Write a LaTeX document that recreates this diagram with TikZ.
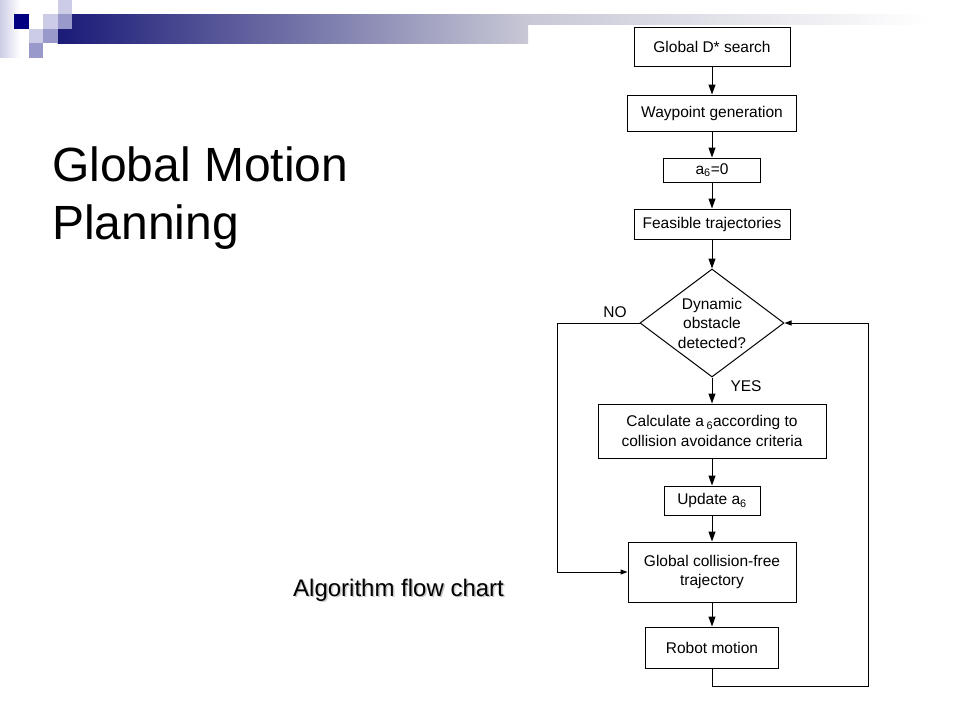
\documentclass[tikz,border=0pt]{standalone}
\usepackage{fontspec}
\setmainfont{Liberation Sans}
\usetikzlibrary{arrows.meta,shapes.geometric}
\definecolor{slidenavy}{RGB}{0,0,128}
\definecolor{slidelight}{RGB}{204,204,230}
\definecolor{slidemid}{RGB}{153,153,204}
\definecolor{bardark}{RGB}{26,26,120}
\definecolor{barpale}{RGB}{200,200,214}
\newcommand{\boxfont}{\fontsize{15.5}{19.5}\selectfont}

\begin{document}
\begin{tikzpicture}[
    x=1pt, y=-1pt,
    flowbox/.style={draw=black, line width=1pt, inner sep=0pt, align=center, font=\boxfont},
    flowarrow/.style={line width=1pt, -{Triangle[length=10pt,width=7pt]}},
    sidearrow/.style={line width=1pt, -{Triangle[length=7pt,width=5pt]}}
]
\useasboundingbox (0,0) rectangle (960,720);
% slide header
\fill[left color=slidelight, right color=white] (0,0) rectangle (20,57.6);
\fill[left color=bardark, right color=barpale] (57.6,14.4) rectangle (528,43.2);
\fill[left color=barpale, right color=white] (528,14.4) rectangle (930,24);
\foreach \tx/\ty/\tc in {57.6/0/slidelight, 14.4/14.4/slidenavy, 43.2/14.4/slidelight,
    57.6/14.4/slidemid, 28.8/28.8/slidelight, 43.2/28.8/slidemid, 28.8/43.2/slidemid}
    \fill[\tc] (\tx,\ty) rectangle ++(14.4,14.4);

\node[anchor=north west, inner sep=0pt, align=left,
      font=\fontsize{48}{58}\selectfont] (title) at (52,147) {Global Motion\\Planning};

\node[anchor=base west, inner sep=0pt, text=black!22,
      font=\fontsize{24}{28}\selectfont] (capshade) at (294.5,597.5) {Algorithm flow chart};
\node[anchor=base west, inner sep=0pt,
      font=\fontsize{24}{28}\selectfont] (caption) at (293,596) {Algorithm flow chart};

% flow chart
\node[flowbox, minimum width=156pt, minimum height=39pt] (search) at (712,46.5) {Global D* search};
\node[flowbox, minimum width=169pt, minimum height=36pt] (wayp) at (712,113) {Waypoint generation};
\node[flowbox, minimum width=97pt, minimum height=24pt] (init) at (712,170) {a\textsubscript{6}=0};
\node[flowbox, minimum width=156pt, minimum height=30pt] (feas) at (712,224) {Feasible trajectories};
\node[flowbox, shape=diamond, aspect=1.333, minimum width=144pt, minimum height=108pt] (decide) at (712,323) {Dynamic\\obstacle\\detected?};
\node[flowbox, minimum width=228pt, minimum height=54pt] (calc) at (712,431) {Calculate a\,\textsubscript{6}according to\\collision avoidance criteria};
\node[flowbox, minimum width=96pt, minimum height=29pt] (update) at (712,500.5) {Update a\textsubscript{6}};
\node[flowbox, minimum width=168pt, minimum height=60pt] (free) at (712,572) {Global collision-free\\trajectory};
\node[flowbox, minimum width=133pt, minimum height=41pt] (motion) at (712,647.5) {Robot motion};

\node[font=\boxfont] (nolabel) at (615,312) {NO};
\node[font=\boxfont] (yeslabel) at (746,386) {YES};

\coordinate (noturn) at (557,323);
\coordinate (backturn) at (868,686);

\draw[flowarrow] (search.south) -- (wayp.north);
\draw[flowarrow] (wayp.south) -- (init.north);
\draw[flowarrow] (init.south) -- (feas.north);
\draw[flowarrow] (feas.south) -- (decide.north);
\draw[flowarrow] (decide.south) -- (calc.north);
\draw[flowarrow] (calc.south) -- (update.north);
\draw[flowarrow] (update.south) -- (free.north);
\draw[flowarrow] (free.south) -- (motion.north);
\draw[sidearrow] (decide.west) -- (noturn) |- (free.west);
\draw[sidearrow] (motion.south) |- (backturn) |- (decide.east);
\end{tikzpicture}
\end{document}
